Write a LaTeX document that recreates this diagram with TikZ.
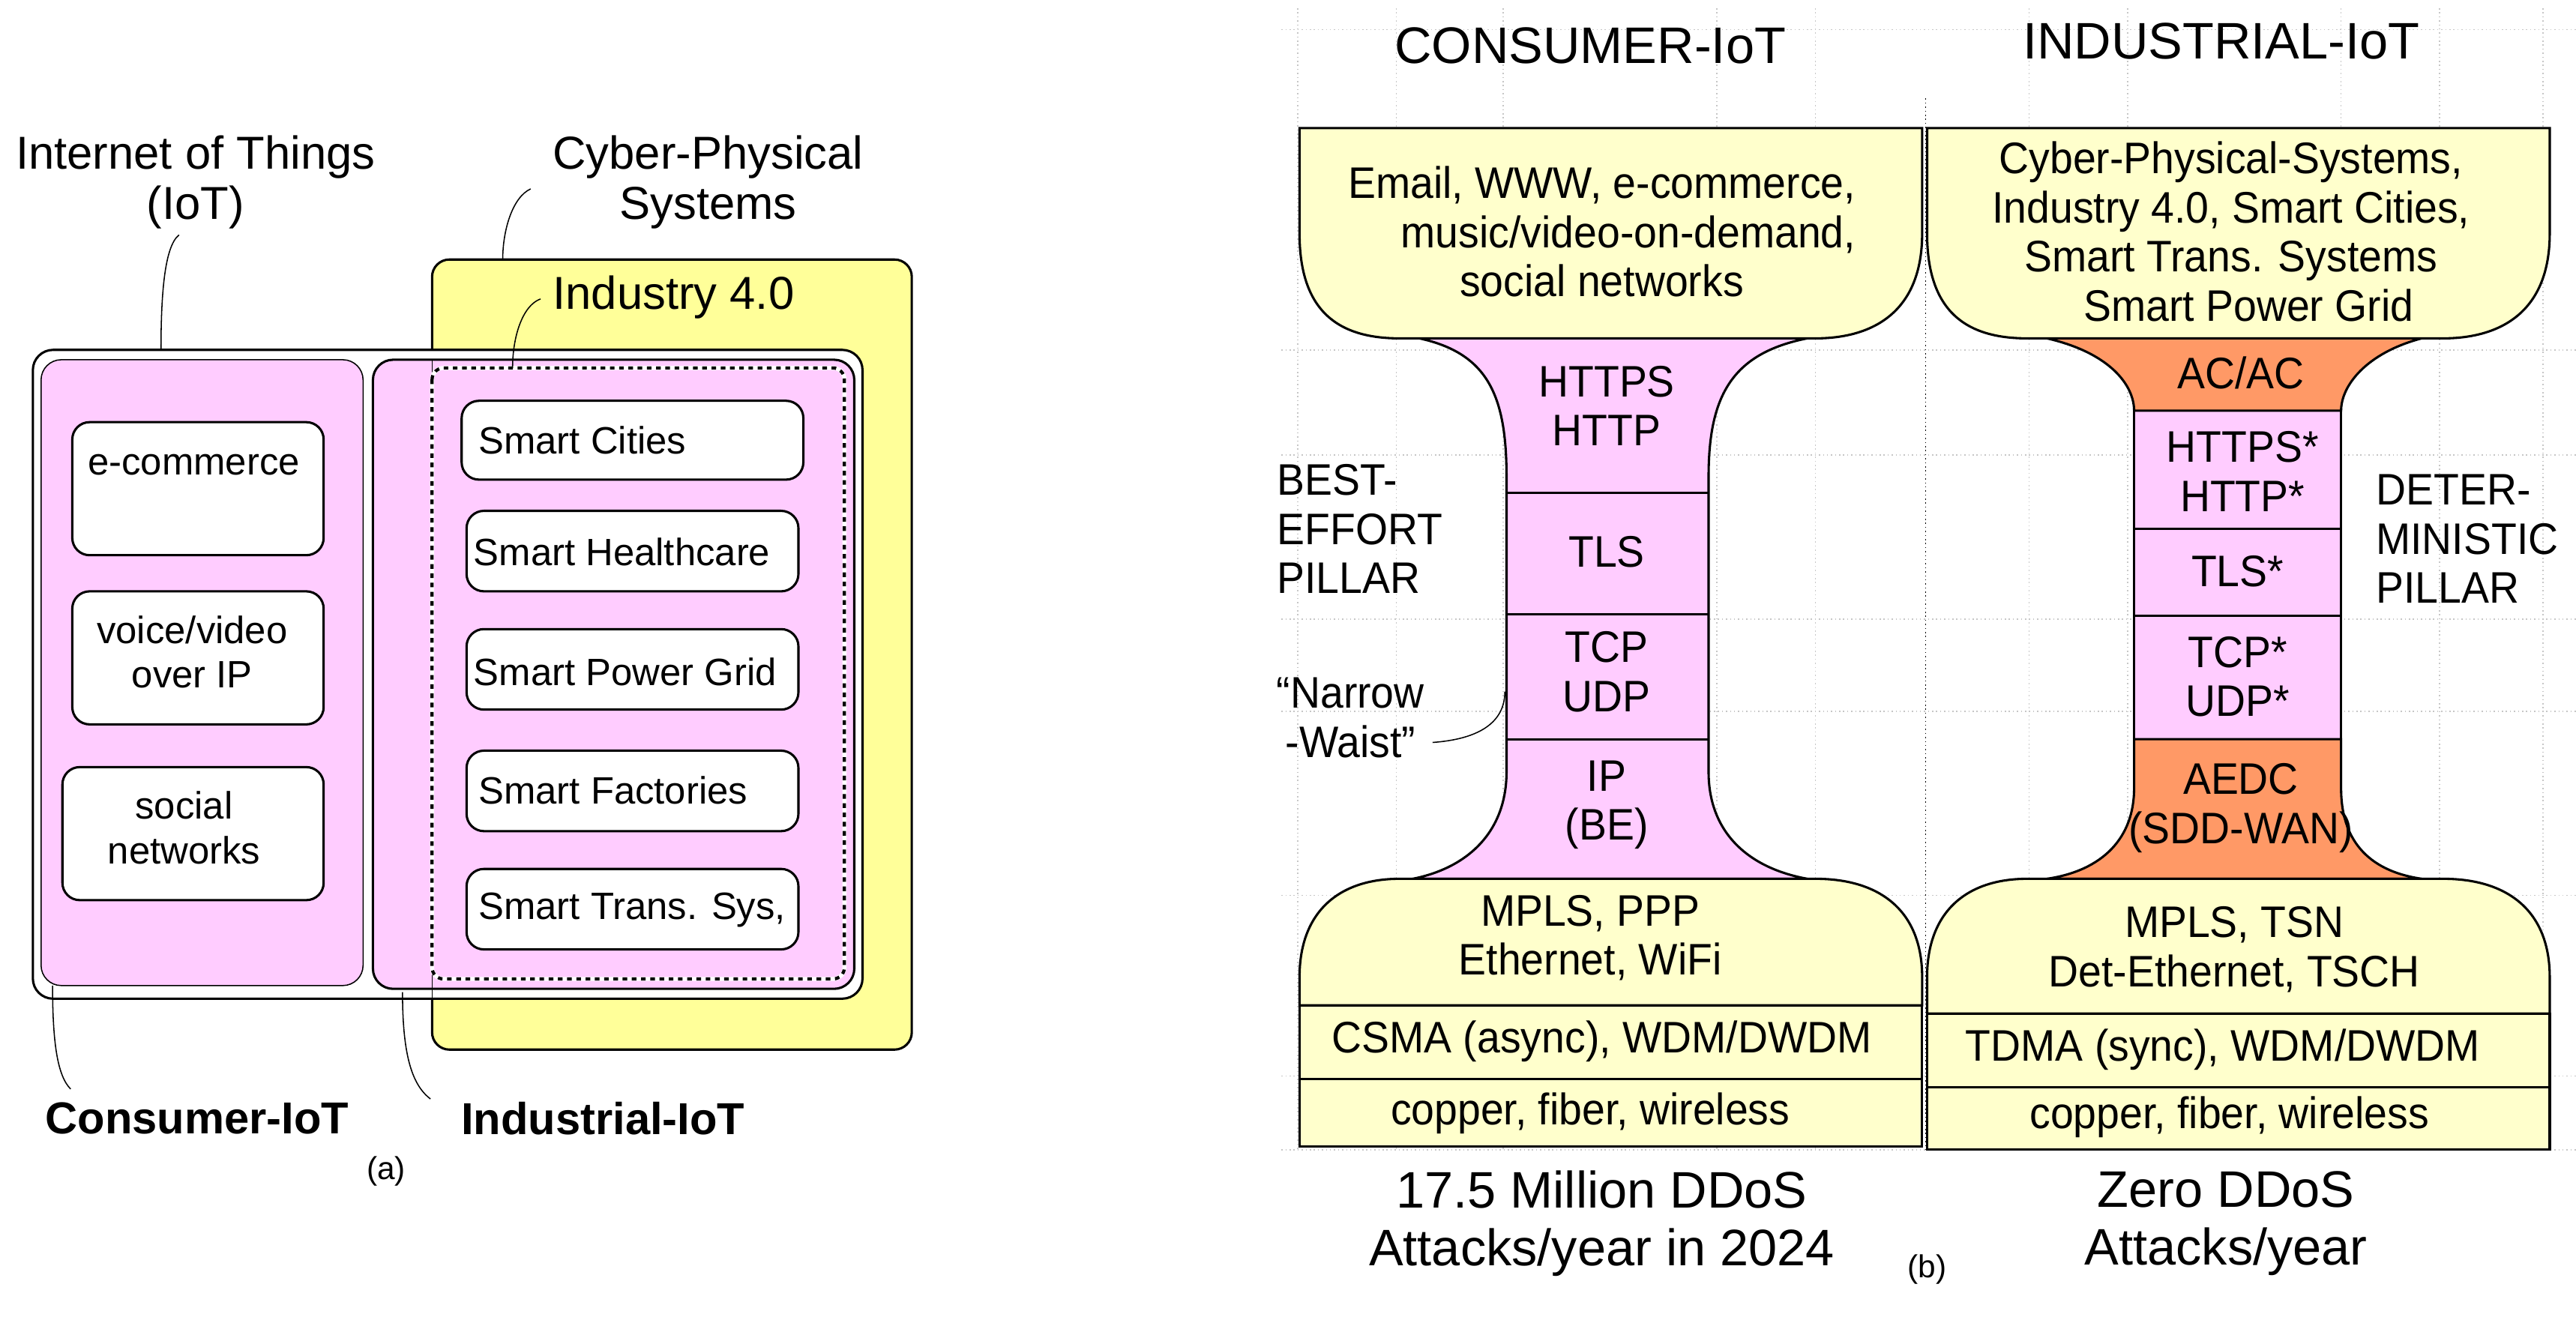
\documentclass[tikz,border=0pt]{standalone}
\usepackage{fontspec}
\setmainfont{Liberation Sans}
\newfontfamily\narrowf[FakeStretch=0.94]{Liberation Sans}
\definecolor{pnk}{HTML}{FFCCFF}
\definecolor{cup}{HTML}{FFFFCC}
\definecolor{cps}{HTML}{FFFF99}
\definecolor{org}{HTML}{FF9966}
\begin{document}
\begin{tikzpicture}[x=0.02cm,y=-0.02cm,
  lbl/.style={font=\fontsize{16}{17.5}\selectfont,align=center,inner sep=0},
  bx/.style={draw,thick,rounded corners=6,fill=white},
  btx/.style={font=\fontsize{13.2}{15.5}\selectfont,align=center,inner sep=0},
  hg/.style={font=\narrowf\fontsize{15.3}{17}\selectfont,align=center,inner sep=0},
  ttl/.style={font=\fontsize{17.8}{20}\selectfont,inner sep=0},
  lead/.style={thin},
  grid/.style={gray!45,densely dotted,thin}]
\useasboundingbox (0,0) rectangle (1568,805);
% ---------- (a) ----------
\draw[thick,fill=cps,rounded corners=6] (263,158) rectangle (555,639);
\draw[thick,fill=white,rounded corners=7] (20,213) rectangle (525,608);
\draw[fill=pnk,rounded corners=7] (25,219) rectangle (221,600);
\draw[thick,fill=pnk,rounded corners=7] (227,219) rectangle (520,602);
\draw[thin] (263,219) -- (263,608);
\draw[white,line width=1.4pt,rounded corners=4] (263,224) rectangle (514,596);
\draw[black,line width=1.1pt,dash pattern=on 1.6pt off 1.6pt,rounded corners=4] (263,224) rectangle (514,596);
\node[bx,minimum width=153*0.02cm,minimum height=81*0.02cm] (ecom) at (120.5,297.5) {};
\node[btx] (ecomt) at (118,283) {e-commerce};
\node[bx,minimum width=153*0.02cm,minimum height=81*0.02cm] (voip) at (120.5,400.5) {};
\node[btx] (voipt) at (117,397) {voice/video\\over IP};
\node[bx,minimum width=159*0.02cm,minimum height=81*0.02cm] (soc) at (117.5,507.5) {};
\node[btx] (soct) at (112,504) {social\\networks};
\node[bx,minimum width=208*0.02cm,minimum height=48*0.02cm] (sc) at (385,268) {};
\node[btx,anchor=west] at (291,268) {Smart Cities};
\node[bx,minimum width=202*0.02cm,minimum height=49*0.02cm] (sh) at (385,335.5) {};
\node[btx,anchor=west] at (288,336) {Smart Healthcare};
\node[bx,minimum width=202*0.02cm,minimum height=49*0.02cm] (sp) at (385,407.5) {};
\node[btx,anchor=west] at (288,409) {Smart Power Grid};
\node[bx,minimum width=202*0.02cm,minimum height=49*0.02cm] (sf) at (385,481.5) {};
\node[btx,anchor=west] at (291,481) {Smart Factories};
\node[bx,minimum width=202*0.02cm,minimum height=49*0.02cm] (st) at (385,553.5) {};
\node[btx,anchor=west] at (291,554) {Smart Trans. Sys,};
\node[lbl] (iot) at (119,111) {Internet of Things\\(IoT)};
\node[lbl] (cpst) at (431,111) {Cyber-Physical\\Systems};
\node[lbl] (ind) at (410,181) {Industry 4.0};
\node[font=\bfseries\fontsize{15.5}{17}\selectfont,inner sep=0] (cons) at (120,681) {Consumer-IoT};
\node[font=\bfseries\fontsize{15.5}{17}\selectfont,inner sep=0] (indl) at (367,681) {Industrial-IoT};
\node[font=\fontsize{11}{13}\selectfont,inner sep=0] (la) at (235,713) {(a)};
\coordinate (c1) at (109,143); \coordinate (c2) at (98,213);
\coordinate (c3) at (323,115); \coordinate (c4) at (306,158);
\coordinate (c5) at (329,182); \coordinate (c6) at (312,224);
\coordinate (c7) at (32,600); \coordinate (c8) at (43,663);
\coordinate (c9) at (245,604); \coordinate (c10) at (262,669);
\draw[lead] (c1) .. controls (100,150) and (98,180) .. (c2);
\draw[lead] (c3) .. controls (312,120) and (306,140) .. (c4);
\draw[lead] (c5) .. controls (318,186) and (312,205) .. (c6);
\draw[lead] (c7) .. controls (32,635) and (35,655) .. (c8);
\draw[lead] (c9) .. controls (245,640) and (250,660) .. (c10);
% ---------- (b) grid ----------
\foreach \gx in {790,850,915,1045,1105,1235,1295,1425,1485,1548}
  \draw[grid] (\gx,5) -- (\gx,700);
\foreach \gy in {18,213,277,377,433,545,655,700}
  \draw[grid] (780,\gy) -- (1568,\gy);
\draw[densely dotted] (1172,60) -- (1172,700);
% ---------- consumer hourglass ----------
\draw[thick,fill=pnk] (864,206) .. controls (905,215) and (917,240) .. (917,290) -- (917,470)
  .. controls (917,505) and (895,528) .. (860,535) -- (1100,535)
  .. controls (1062,528) and (1040,505) .. (1040,470) -- (1040,290)
  .. controls (1040,240) and (1055,215) .. (1100,206) -- cycle;
\draw[thick] (917,300) -- (1040,300) (917,374) -- (1040,374) (917,450) -- (1040,450);
\draw[thick,fill=cup] (791,78) -- (1170,78) -- (1170,142) .. controls (1170,190) and (1140,206) .. (1105,206)
  -- (852,206) .. controls (815,206) and (791,190) .. (791,142) -- cycle;
\draw[thick,fill=cup] (791,612) -- (791,595) .. controls (791,555) and (815,535) .. (852,535)
  -- (1105,535) .. controls (1145,535) and (1170,555) .. (1170,595) -- (1170,612) -- cycle;
\draw[thick,fill=cup] (791,612) rectangle (1170,657);
\draw[thick,fill=cup] (791,657) rectangle (1170,698);
\node[hg] (ct) at (975,141) {Email, WWW, e-commerce,\\\hspace*{1.2em}music/video-on-demand,\\social networks};
\node[hg] (chttp) at (978,247) {HTTPS\\HTTP};
\node[hg] (ctls) at (978,336) {TLS};
\node[hg] (ctcp) at (978,409) {TCP\\UDP};
\node[hg] (cip) at (978,490) {IP\\(BE)};
\node[hg] (cmpls) at (968,571) {MPLS, PPP\\Ethernet, WiFi};
\node[hg] (ccsma) at (975,634) {CSMA (async), WDM/DWDM};
\node[hg] (ccop) at (968,678) {copper, fiber, wireless};
\node[ttl] (ctitle) at (968,28) {CONSUMER-IoT};
\node[ttl,align=center] (cdd) at (975,745) {17.5 Million DDoS\\Attacks/year in 2024};
\node[hg,align=left,anchor=west] (best) at (777,322) {BEST-\\EFFORT\\PILLAR};
\node[hg] (narrow) at (822,437) {“Narrow\\-Waist”};
\coordinate (n1) at (872,452); \coordinate (n2) at (916,421);
\draw[lead] (n1) .. controls (900,450) and (916,440) .. (n2);
\node[font=\fontsize{11}{13}\selectfont,inner sep=0] (lb) at (1173,773) {(b)};
% ---------- industrial hourglass ----------
\draw[thick,fill=pnk] (1299,250) rectangle (1425,450);
\draw[thick] (1299,322) -- (1425,322) (1299,375) -- (1425,375);
\draw[thick,fill=org] (1246,206) .. controls (1285,215) and (1299,235) .. (1299,250) -- (1425,250)
  .. controls (1425,235) and (1440,215) .. (1474,206) -- cycle;
\draw[thick,fill=org] (1299,450) -- (1299,480) .. controls (1299,510) and (1280,530) .. (1246,535)
  -- (1474,535) .. controls (1440,530) and (1425,510) .. (1425,480) -- (1425,450) -- cycle;
\draw[thick,fill=cup] (1173,78) -- (1552,78) -- (1552,142) .. controls (1552,190) and (1522,206) .. (1487,206)
  -- (1234,206) .. controls (1197,206) and (1173,190) .. (1173,142) -- cycle;
\draw[thick,fill=cup] (1173,617) -- (1173,595) .. controls (1173,555) and (1197,535) .. (1234,535)
  -- (1487,535) .. controls (1527,535) and (1552,555) .. (1552,595) -- (1552,617) -- cycle;
\draw[thick,fill=cup] (1173,617) rectangle (1552,662);
\draw[thick,fill=cup] (1173,662) rectangle (1552,700);
\node[hg] (it) at (1358,141) {Cyber-Physical-Systems,\\Industry 4.0, Smart Cities,\\Smart Trans. Systems\\\hspace*{0.8em}Smart Power Grid};
\node[hg] (iac) at (1364,227) {AC/AC};
\node[hg] (ihttp) at (1365,287) {HTTPS*\\HTTP*};
\node[hg] (itls) at (1362,348) {TLS*};
\node[hg] (itcp) at (1362,412) {TCP*\\UDP*};
\node[hg] (iaedc) at (1364,492) {AEDC\\(SDD-WAN)};
\node[hg] (impls) at (1360,578) {MPLS, TSN\\Det-Ethernet, TSCH};
\node[hg] (itdma) at (1353,639) {TDMA (sync), WDM/DWDM};
\node[hg] (icop) at (1357,680) {copper, fiber, wireless};
\node[ttl] (ititle) at (1352,25) {INDUSTRIAL-IoT};
\node[ttl,align=center] (idd) at (1355,745) {Zero DDoS\\Attacks/year};
\node[hg,align=left,anchor=west] (det) at (1446,328) {DETER-\\MINISTIC\\PILLAR};
\end{tikzpicture}
\end{document}
